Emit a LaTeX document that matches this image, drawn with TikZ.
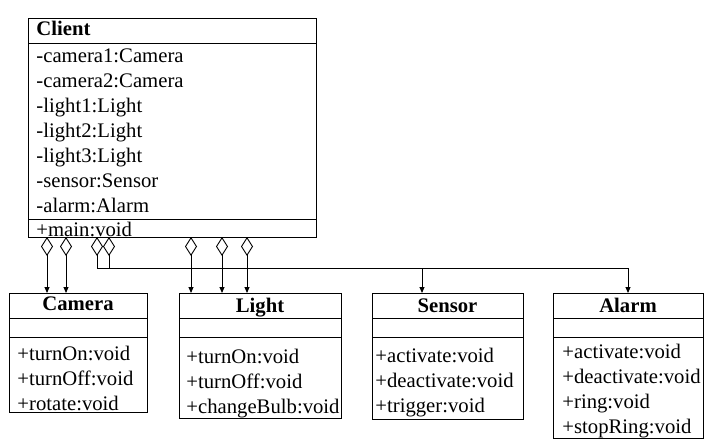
\documentclass[tikz,border=0pt]{standalone}
\usepackage{fontspec}
\setmainfont{Liberation Serif}
\usetikzlibrary{arrows.meta}
\begin{document}
\begin{tikzpicture}[x=1pt,y=-1pt,line width=0.9pt,
  cls/.style={draw,rectangle,inner sep=0pt,outer sep=0pt},
  txt/.style={anchor=base west,inner sep=0pt,font=\fontsize{20.7}{25}\selectfont},
  ttl/.style={anchor=base,inner sep=0pt,font=\fontsize{20.7}{25}\selectfont\bfseries},
  aggr/.style={{Diamond[open,length=19pt,width=12pt]}-{Triangle[length=6pt,width=5pt]}},
  aggl/.style={{Diamond[open,length=19pt,width=12pt]}-},
  arr/.style={-{Triangle[length=6pt,width=5pt]}}]
\useasboundingbox (0,0) rectangle (710,439);
\fill[white] (0,0) rectangle (710,439);

% Client
\node[cls,minimum width=288pt,minimum height=219pt] (client) at (172,127.5) {};
\draw (28,43) -- (316,43);
\draw (28,219) -- (316,219);
\node[txt,font=\fontsize{20.7}{25}\selectfont\bfseries] (cname) at (36,35) {Client};
\node[txt] (c1) at (36,62) {-camera1:Camera};
\node[txt] (c2) at (36,87) {-camera2:Camera};
\node[txt] (c3) at (36,112) {-light1:Light};
\node[txt] (c4) at (36,137) {-light2:Light};
\node[txt] (c5) at (36,162) {-light3:Light};
\node[txt] (c6) at (36,187) {-sensor:Sensor};
\node[txt] (c7) at (36,212) {-alarm:Alarm};
\node[txt] (c8) at (36,236) {+main:void};

% Camera
\node[cls,minimum width=138pt,minimum height=119pt] (cam) at (78,352.5) {};
\draw (9,318) -- (147,318);
\draw (9,337) -- (147,337);
\node[ttl] (camt) at (78,310) {Camera};
\node[txt] (cam1) at (17,360) {+turnOn:void};
\node[txt] (cam2) at (17,385) {+turnOff:void};
\node[txt] (cam3) at (17,410) {+rotate:void};

% Light
\node[cls,minimum width=162pt,minimum height=125pt] (lig) at (260,355.5) {};
\draw (179,318) -- (341,318);
\draw (179,337) -- (341,337);
\node[ttl] (ligt) at (260,312) {Light};
\node[txt] (lig1) at (186,363) {+turnOn:void};
\node[txt] (lig2) at (186,388) {+turnOff:void};
\node[txt] (lig3) at (186,413) {+changeBulb:void};

% Sensor
\node[cls,minimum width=151pt,minimum height=126pt] (sen) at (447.5,356) {};
\draw (372,318) -- (523,318);
\draw (372,337) -- (523,337);
\node[ttl] (sent) at (447.5,312) {Sensor};
\node[txt] (sen1) at (375,362) {+activate:void};
\node[txt] (sen2) at (375,387) {+deactivate:void};
\node[txt] (sen3) at (375,412) {+trigger:void};

% Alarm
\node[cls,minimum width=150pt,minimum height=145pt] (ala) at (628,365.5) {};
\draw (553,318) -- (703,318);
\draw (553,337) -- (703,337);
\node[ttl] (alat) at (628,312) {Alarm};
\node[txt] (ala1) at (562,358) {+activate:void};
\node[txt] (ala2) at (562,383) {+deactivate:void};
\node[txt] (ala3) at (562,408) {+ring:void};
\node[txt] (ala4) at (562,433) {+stopRing:void};

% connectors
\coordinate (d1) at (47,237);
\coordinate (d2) at (66,237);
\coordinate (d3) at (97,237);
\coordinate (d4) at (109,237);
\coordinate (d5) at (191,237);
\coordinate (d6) at (222,237);
\coordinate (d7) at (247,237);
\coordinate (j3) at (97,268);
\coordinate (js) at (422,268);

\draw[aggr] (d1) -- (d1 |- cam.north);
\draw[aggr] (d2) -- (d2 |- cam.north);
\draw[aggr] (d5) -- (d5 |- lig.north);
\draw[aggr] (d6) -- (d6 |- lig.north);
\draw[aggr] (d7) -- (d7 |- lig.north);
\draw[aggr] (d3) -- (j3) -| (ala.north);
\draw[aggl] (d4) -- (d4 |- j3);
\draw[arr] (js) -- (js |- sen.north);
\end{tikzpicture}
\end{document}
